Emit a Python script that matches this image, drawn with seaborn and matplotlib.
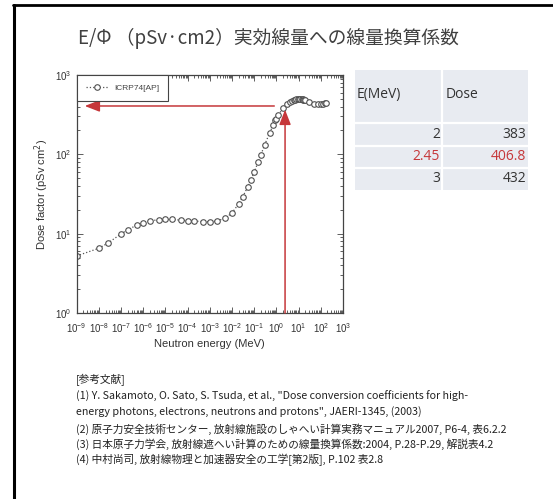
import numpy as np
import pandas as pd
import matplotlib
matplotlib.use("Agg")
import matplotlib.pyplot as plt
import seaborn as sns
from matplotlib.lines import Line2D
from matplotlib.patches import Rectangle
from matplotlib.ticker import LogLocator, NullFormatter

# ---------------- data ----------------
energy = [1e-9, 1e-8, 2.53e-8, 1e-7, 2e-7, 5e-7, 1e-6, 2e-6, 5e-6, 1e-5, 2e-5, 5e-5,
          1e-4, 2e-4, 5e-4, 1e-3, 2e-3, 5e-3, 1e-2, 2e-2, 3e-2, 5e-2, 7e-2, 0.1, 0.15,
          0.2, 0.3, 0.5, 0.7, 0.9, 1.0, 1.2, 2.0, 3.0, 4.0, 5.0, 6.0, 7.0, 8.0, 9.0,
          10.0, 12.0, 14.0, 15.0, 16.0, 18.0, 20.0, 30.0, 50.0, 75.0, 100.0, 130.0,
          150.0, 180.0]
dose = [5.24, 6.55, 7.60, 9.95, 11.2, 12.8, 13.8, 14.5, 15.0, 15.1, 15.1, 14.8,
        14.6, 14.4, 14.2, 14.2, 14.4, 15.7, 18.3, 23.8, 29.0, 38.5, 47.2, 59.8, 80.2,
        99.0, 133, 188, 231, 267, 282, 310, 383, 432, 458, 474, 483, 490, 494, 497,
        499, 499, 496, 494, 491, 486, 480, 458, 437, 429, 429, 432, 440, 450]
series_label = "ICRP74[AP]"

table_header = ["E(MeV)", "Dose"]
table_energy = ["2", "2.45", "3"]
table_dose = ["383", "406.8", "432"]
highlight_row = 1
mark_energy = 2.45
mark_dose = 406.8

title = "E/Φ （pSv·cm2）実効線量への線量換算係数"
refs = [
    "[参考文献]",
    "(1) Y. Sakamoto, O. Sato, S. Tsuda, et al., \"Dose conversion coefficients for high-",
    "energy photons, electrons, neutrons and protons\", JAERI-1345, (2003)",
    "(2) 原子力安全技術センター, 放射線施設のしゃへい計算実務マニュアル2007, P6-4, 表6.2.2",
    "(3) 日本原子力学会, 放射線遮へい計算のための線量換算係数:2004, P.28-P.29, 解説表4.2",
    "(4) 中村尚司, 放射線物理と加速器安全の工学[第2版], P.102 表2.8",
]

# ---------------- style ----------------
sns.set_style("ticks")
plt.rcParams["font.family"] = ["Liberation Sans", "Noto Sans CJK JP", "DejaVu Sans"]
CJK = ["Noto Sans CJK JP", "DejaVu Sans"]

W, H = 553, 499
fig = plt.figure(figsize=(W / 100, H / 100), dpi=100)
fig.patch.set_facecolor("white")


def fx(px):
    return px / W


def fy(py):
    return 1 - py / H


# ---------------- main plot ----------------
L, R, T, B = 76.7, 343, 75, 313
ax = fig.add_axes([fx(L), fy(B), (R - L) / W, (B - T) / H])
df = pd.DataFrame({"energy": energy, "dose": dose})
sns.lineplot(data=df, x="energy", y="dose", ax=ax, estimator=None, sort=True,
             color="#555555", linestyle=":", linewidth=0.9,
             marker="o", markersize=4.0, markerfacecolor="white",
             markeredgecolor="#505050", markeredgewidth=0.8, label=series_label)
ax.set_xscale("log")
ax.set_yscale("log")
ax.set_xlim(1e-9, 1e3)
ax.set_ylim(1, 1e3)
ax.xaxis.set_major_locator(LogLocator(base=10, numticks=20))
ax.xaxis.set_minor_locator(LogLocator(base=10, subs=np.arange(2, 10), numticks=200))
ax.xaxis.set_minor_formatter(NullFormatter())
ax.yaxis.set_major_locator(LogLocator(base=10, numticks=10))
ax.yaxis.set_minor_locator(LogLocator(base=10, subs=np.arange(2, 10), numticks=100))
ax.yaxis.set_minor_formatter(NullFormatter())
ax.tick_params(which="both", direction="in", top=True, right=True,
               colors="#444444", labelcolor="#333333", labelsize=7, width=0.6)
ax.tick_params(which="major", length=4)
ax.tick_params(axis="x", which="major", pad=6)
ax.tick_params(axis="y", which="major", pad=4)
ax.tick_params(which="minor", length=2)
for s in ax.spines.values():
    s.set_color("#444444")
    s.set_linewidth(0.9)
ax.set_xlabel("Neutron energy (MeV)", fontsize=8, color="#333333", labelpad=3)
ax.set_ylabel("Dose factor (pSv cm$^2$)", fontsize=8, color="#333333", labelpad=3)

leg = ax.legend(loc="upper left", borderaxespad=0, fancybox=False, framealpha=1,
                edgecolor="#444444", fontsize=6, handlelength=2.6, borderpad=1.1,
                handletextpad=0.8)
leg.get_frame().set_linewidth(0.8)
for t in leg.get_texts():
    t.set_color("#444444")

red = "#c6373a"
ax.annotate("", xy=(2.3e-9, mark_dose), xytext=(0.8, mark_dose),
            arrowprops=dict(arrowstyle="-|>,head_length=0.9,head_width=0.35",
                            color=red, lw=1.1, shrinkA=0, shrinkB=0))
ax.annotate("", xy=(mark_energy, 365), xytext=(mark_energy, 1.0),
            arrowprops=dict(arrowstyle="-|>,head_length=0.9,head_width=0.35",
                            color=red, lw=1.1, shrinkA=0, shrinkB=0))

# ---------------- table ----------------
TL, TR, TT, TB = 355, 528, 70, 190
tax = fig.add_axes([fx(TL), fy(TB), (TR - TL) / W, (TB - TT) / H])
tax.set_xlim(TL, TR)
tax.set_ylim(TB, TT)
tax.axis("off")
row_edges = [70, 123, 146, 168, 190]
col_split = 442
bg = "#e8ebf1"
tax.add_patch(Rectangle((TL, TT), TR - TL, TB - TT, facecolor=bg, edgecolor="none"))
for yy in row_edges[1:-1]:
    tax.plot([TL, TR], [yy, yy], color="white", lw=1.6)
tax.plot([col_split, col_split], [TT, TB], color="white", lw=1.6)
tfs = 10
tax.text(357, 95, table_header[0], fontsize=tfs, color="#333333", va="center",
         ha="left", family=["Open Sans", "DejaVu Sans"])
tax.text(446, 95, table_header[1], fontsize=tfs, color="#333333", va="center",
         ha="left", family=["Open Sans", "DejaVu Sans"])
for i, (e, d) in enumerate(zip(table_energy, table_dose)):
    yc = (row_edges[i + 1] + row_edges[i + 2]) / 2
    c = red if i == highlight_row else "#333333"
    tax.text(440, yc, e, fontsize=tfs, color=c, va="center", ha="right",
             family=["Open Sans", "DejaVu Sans"])
    tax.text(526, yc, d, fontsize=tfs, color=c, va="center", ha="right",
             family=["Open Sans", "DejaVu Sans"])

# ---------------- title, references, frame ----------------
fig.text(fx(78), fy(38), title, fontsize=13.5, color="#404040", va="center",
         ha="left", family=CJK)
ref_y = [380, 396.5, 411.5, 429.5, 444.5, 459.5]
for txt, yy in zip(refs, ref_y):
    fig.text(fx(76), fy(yy), txt, fontsize=7.7, color="#222222", va="center",
             ha="left", family=CJK)

fig.add_artist(Line2D([fx(14), fx(14)], [fy(4.5), 0], color="black", lw=2.2))
fig.add_artist(Line2D([fx(13), 1], [fy(5), fy(5)], color="black", lw=2.0))

fig.savefig("out.png", dpi=100, facecolor="white")
